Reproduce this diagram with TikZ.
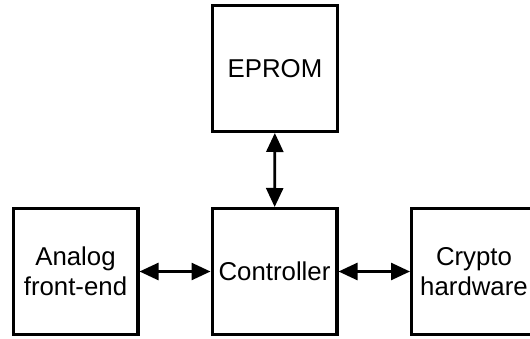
\documentclass[tikz,border=0pt]{standalone}
\usepackage{fontspec}
\setmainfont{Liberation Sans}
\usetikzlibrary{arrows.meta}
\begin{document}
\begin{tikzpicture}[x=1pt,y=-1pt,
  blk/.style={draw, line width=3.4pt, minimum width=124.6pt, minimum height=125.6pt,
    inner sep=0pt, align=center, font=\fontsize{25.8}{30}\selectfont},
  link/.style={line width=2.6pt, {Triangle[length=19pt,width=17pt]}-{Triangle[length=19pt,width=17pt]}}]
\useasboundingbox (0,0) rectangle (530,339);
\node[blk] (eprom) at (275,68.5) {EPROM};
\node[blk] (ctrl) at (274.5,271.5) {Controller};
\node[blk] (afe) at (75.5,271.5) {Analog\\front-end};
\node[blk] (crypto) at (474,271.5) {Crypto\\hardware};
\draw[link] (eprom) -- (ctrl);
\draw[link] (afe) -- (ctrl);
\draw[link] (ctrl) -- (crypto);
\end{tikzpicture}
\end{document}
